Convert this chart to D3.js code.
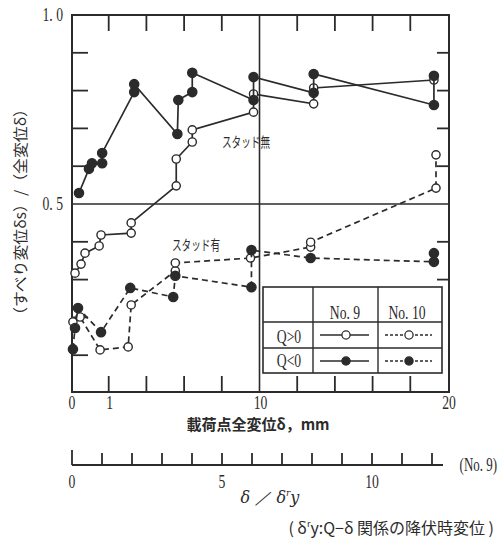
<!DOCTYPE html>
<html><head><meta charset="utf-8">
<script src="https://cdn.jsdelivr.net/npm/d3@7"></script>
<style>body{margin:0;background:#fff}</style>
</head><body>
<svg id="c" width="498" height="538"></svg>
<script>
// ---- data (x: 載荷点全変位 δ mm, y: δs/δ) ----
const no9Pos = [[0.16,0.317],[0.48,0.341],[0.69,0.370],[1.44,0.389],[1.54,0.418],[3.14,0.423],[3.14,0.450],[5.53,0.548],[5.53,0.619],[6.38,0.664],[6.38,0.696],[9.63,0.743],[9.63,0.791],[12.82,0.765],[12.82,0.807],[19.20,0.828]];
const no9Neg = [[0.37,0.529],[0.90,0.593],[1.06,0.608],[1.60,0.608],[1.60,0.635],[3.30,0.796],[3.30,0.817],[5.59,0.685],[5.64,0.775],[6.38,0.796],[6.38,0.847],[9.63,0.775],[9.63,0.836],[12.82,0.794],[12.82,0.844],[19.20,0.762],[19.20,0.839]];
const no10Pos = [[0.05,0.188],[0.43,0.201],[1.49,0.114],[2.98,0.122],[3.14,0.233],[5.48,0.323],[5.48,0.344],[9.47,0.357],[12.66,0.386],[12.66,0.399],[19.31,0.542],[19.31,0.630]];
const no10Neg = [[0.05,0.116],[0.16,0.172],[0.32,0.225],[1.54,0.161],[3.09,0.278],[5.37,0.254],[5.48,0.310],[9.52,0.280],[9.52,0.378],[12.66,0.357],[19.20,0.347],[19.20,0.370]];
const xMinorTicks = [2,4,6,8,12,14,16,18];
const yMinorTicks = [0.1,0.2,0.3,0.4,0.6,0.7,0.8,0.9];
const yRightTicks = [0.3,0.4,0.6,0.7,0.8,0.9];
const xTickLabels = [[0,"0"],[2,"1"],[10,"10"],[20,"20"]];
const yTickLabels = [[1.0,"1. 0"],[0.5,"0. 5"]];
const ratioTicks = [0,1,2,3,4,5,6,7,8,9,10,11,12];
const ratioLabels = [0,5,10];

const ink = "#2b2b2b";
const svg = d3.select("#c");
const x = d3.scaleLinear([0,20],[72,449]);
const y = d3.scaleLinear([0,1],[393,15]);
const r2 = d3.scaleLinear([0,12],[72,432]);

function cond(g, px, py, txt, size, anchor, sx){
  return g.append("text").attr("transform",`translate(${px},${py}) scale(${sx||0.72},1)`)
   .attr("text-anchor",anchor||"middle").attr("font-family","Liberation Serif, serif")
   .attr("font-size",size).attr("fill",ink).text(txt);
}

// frame
svg.append("rect").attr("x",x(0)).attr("y",y(1)).attr("width",x(20)-x(0)).attr("height",y(0)-y(1)-1)
  .attr("fill","none").attr("stroke",ink).attr("stroke-width",2);
// grid lines
svg.append("line").attr("x1",x(0)).attr("x2",x(20)).attr("y1",y(0.5)).attr("y2",y(0.5)).attr("stroke",ink).attr("stroke-width",1.6);
svg.append("line").attr("x1",x(10)-1).attr("x2",x(10)-1).attr("y1",y(1)).attr("y2",y(0)).attr("stroke",ink).attr("stroke-width",1.6);
// ticks
const tg = svg.append("g").attr("stroke",ink).attr("stroke-width",1.8);
xMinorTicks.forEach(v=>{
  tg.append("line").attr("x1",x(v)-1).attr("x2",x(v)-1).attr("y1",y(1)).attr("y2",y(1)+16);
  tg.append("line").attr("x1",x(v)-1).attr("x2",x(v)-1).attr("y1",y(0)).attr("y2",y(0)-17);
});
yMinorTicks.forEach(v=>{
  tg.append("line").attr("x1",x(0)).attr("x2",x(0)+16).attr("y1",y(v)).attr("y2",y(v));
});
yRightTicks.forEach(v=>{
  tg.append("line").attr("x1",x(20)).attr("x2",x(20)-12).attr("y1",y(v)).attr("y2",y(v));
});

// series
const line = d3.line().x(d=>x(d[0])).y(d=>y(d[1]));
function series(data, dashed, filled){
  svg.append("path").attr("d",line(data)).attr("fill","none").attr("stroke",ink)
    .attr("stroke-width",1.7).attr("stroke-dasharray",dashed?"6,4":null);
  svg.append("g").selectAll("circle").data(data).join("circle")
    .attr("cx",d=>x(d[0])).attr("cy",d=>y(d[1])).attr("r",filled?4.6:4.1)
    .attr("fill",filled?ink:"#fff").attr("stroke",ink).attr("stroke-width",1.4);
}
series(no10Pos,true,false);
series(no10Neg,true,true);
series(no9Pos,false,false);
series(no9Neg,false,true);

// annotations
const jp = "Noto Sans CJK JP, sans-serif";
function stud(px, py, txt){
  svg.append("text").attr("x",px).attr("y",py).attr("font-family",jp).attr("font-size",14)
    .attr("fill",ink).attr("textLength",48).attr("lengthAdjust","spacingAndGlyphs").text(txt);
}
stud(222,147,"スタッド無");
stud(172,250,"スタッド有");

// legend
const lg = svg.append("g");
const L = {x0:263,x1:313,x2:378,x3:442,y0:287,y1:322,y2:348,y3:373};
lg.append("rect").attr("x",L.x0).attr("y",L.y0).attr("width",L.x3-L.x0).attr("height",L.y3-L.y0)
  .attr("fill","#fff").attr("stroke",ink).attr("stroke-width",1.6);
[[L.x1,L.y0,L.x1,L.y3],[L.x2,L.y0,L.x2,L.y3],[L.x0,L.y1,L.x3,L.y1],[L.x0,L.y2,L.x3,L.y2]].forEach(s=>{
  lg.append("line").attr("x1",s[0]).attr("y1",s[1]).attr("x2",s[2]).attr("y2",s[3]).attr("stroke",ink).attr("stroke-width",1.4);
});
cond(lg,345,319,"No. 9",19);
cond(lg,407,319,"No. 10",19);
cond(lg,289,343,"Q>0",19);
cond(lg,289,367,"Q<0",19);
[[L.y1+13,false],[L.y2+13,true]].forEach(([cy,filled])=>{
  lg.append("line").attr("x1",320).attr("x2",369).attr("y1",cy).attr("y2",cy).attr("stroke",ink).attr("stroke-width",1.3);
  lg.append("circle").attr("cx",346).attr("cy",cy).attr("r",4.1).attr("fill",filled?ink:"#fff").attr("stroke",ink).attr("stroke-width",1.3);
  lg.append("line").attr("x1",385).attr("x2",432).attr("y1",cy).attr("y2",cy).attr("stroke",ink).attr("stroke-width",1.3).attr("stroke-dasharray","3,2");
  lg.append("circle").attr("cx",409).attr("cy",cy).attr("r",4.1).attr("fill",filled?ink:"#fff").attr("stroke",ink).attr("stroke-width",1.3);
});

// tick labels
xTickLabels.forEach(([v,t])=>cond(svg,x(v),409,t,19));
yTickLabels.forEach(([v,t])=>cond(svg,63,y(v)+6,t,19,"end"));

// axis titles
svg.append("text").attr("transform","translate(26,212) rotate(-90)").attr("text-anchor","middle")
  .attr("font-family",jp).attr("font-size",15).attr("fill",ink)
  .attr("textLength",222).attr("lengthAdjust","spacingAndGlyphs").text("（すべり変位δs）/（全変位δ）");
svg.append("text").attr("x",258).attr("y",430).attr("text-anchor","middle").attr("font-family",jp)
  .attr("font-size",15).attr("font-weight","bold").attr("fill",ink).text("載荷点全変位δ，mm");

// second axis δ/δy
const ag = svg.append("g").attr("stroke",ink).attr("stroke-width",1.8);
ag.append("line").attr("x1",r2(0)).attr("x2",443).attr("y1",465).attr("y2",465);
ratioTicks.forEach(v=>{
  ag.append("line").attr("x1",r2(v)).attr("x2",r2(v)).attr("y1",465).attr("y2",v===0?450:453);
});
ratioLabels.forEach(v=>cond(svg,r2(v),488,String(v),19));
cond(svg,497,471,"(No. 9)",18,"end");
const t2 = svg.append("text").attr("x",270).attr("y",503).attr("text-anchor","middle")
  .attr("font-family","DejaVu Serif, serif").attr("font-style","italic").attr("font-size",16).attr("fill",ink);
t2.append("tspan").text("δ ／ δ");
t2.append("tspan").attr("font-size",9).attr("dy",-7).text("r");
t2.append("tspan").attr("dy",7).text("y");
const t3 = svg.append("text").attr("x",494).attr("y",534).attr("text-anchor","end")
  .attr("font-family",jp).attr("font-size",16).attr("fill",ink);
t3.append("tspan").text("( δ");
t3.append("tspan").attr("font-size",9).attr("dy",-7).text("r");
t3.append("tspan").attr("dy",7).text("y:Q−δ 関係の降伏時変位 )");
</script>
</body></html>
